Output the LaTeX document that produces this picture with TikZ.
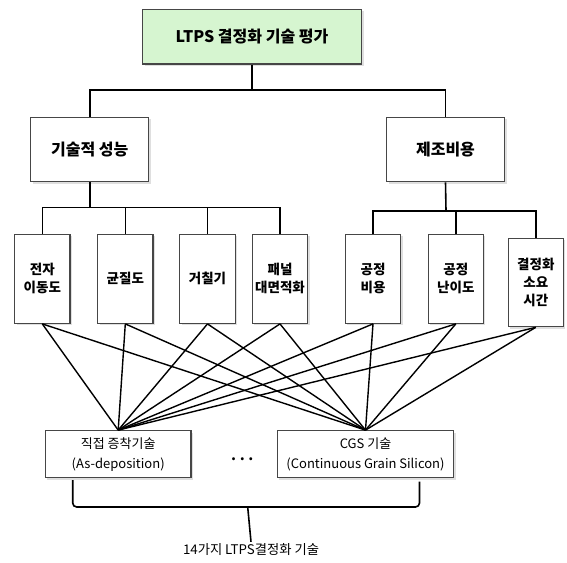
\documentclass[tikz,border=0pt]{standalone}
\usepackage{fontspec}
\setmainfont{Noto Sans CJK KR}
\usetikzlibrary{shadows}
\definecolor{topgreen}{RGB}{214,245,208}
\definecolor{boxline}{RGB}{70,70,70}
\tikzset{
  basebox/.style={draw=boxline, line width=1.2pt, fill=white, inner sep=0pt, align=center,
    drop shadow={shadow xshift=2pt, shadow yshift=-2pt, opacity=0.25, fill=black!50}},
  topbox/.style={basebox, fill=topgreen, minimum width=219pt, minimum height=54.7pt,
    font=\fontsize{16}{19}\selectfont\bfseries},
  midbox/.style={basebox, minimum width=118pt, minimum height=64.4pt,
    font=\fontsize{16}{19}\selectfont\bfseries},
  leafbox/.style={basebox, minimum width=55.3pt, minimum height=89pt,
    font=\fontsize{13.5}{18}\selectfont\bfseries},
  techbox/.style={basebox, minimum height=47pt, font=\fontsize{13}{20}\selectfont},
  conn/.style={line width=1.6pt, black},
  lbl/.style={inner sep=2pt, font=\fontsize{13.3}{16}\selectfont}
}
\begin{document}
\begin{tikzpicture}[x=1pt, y=-1pt]
\useasboundingbox (0,0) rectangle (567,562);

% nodes
\node[topbox] (top) at (252,36.7) {LTPS 결정화 기술 평가};
\node[midbox] (perf) at (89.7,149.5) {기술적 성능};
\node[midbox] (cost) at (445.5,149.5) {제조비용};

\node[leafbox] (t1) at (42.3,278.8) {전자\\이동도};
\node[leafbox] (t2) at (125.3,278.8) {균질도};
\node[leafbox] (t3) at (207.5,278.8) {거칠기};
\node[leafbox] (t4) at (280,278.8) {패널\\대면적화};
\node[leafbox] (t5) at (373,278.8) {공정\\비용};
\node[leafbox] (t6) at (455.8,278.8) {공정\\난이도};
\node[leafbox, minimum height=88.4pt] (t7) at (535.8,282.5) {결정화\\소요\\시간};

\node[techbox, minimum width=145.5pt] (ta) at (118.2,454.2) {직접 증착기술\\(As-deposition)};
\node[techbox, minimum width=176.5pt] (tb) at (365.5,454.2) {CGS 기술\\(Continuous Grain Silicon)};
\node[font=\fontsize{14}{14}\selectfont\bfseries] (dots) at (242.3,461) {···};
\node[lbl] (sum) at (251,550) {14가지 LTPS결정화 기술};

% tree connectors
\coordinate (bus1) at (252,90);
\draw[conn] (top.south) -- (bus1);
\draw[conn] (perf.north) |- (bus1) -| (cost.north);

\coordinate (bus2) at (89.7,207.3);
\draw[conn] (perf.south) -- (bus2);
\draw[conn] (t1.north) |- (t4.north |- bus2) -- (t4.north);
\draw[conn] (t2.north) -- (t2.north |- bus2);
\draw[conn] (t3.north) -- (t3.north |- bus2);

\coordinate (bus3) at (446,210.7);
\draw[conn] (cost.south) -- (bus3);
\draw[conn] (t5.north) |- (t7.north |- bus3) -- (t7.north);
\draw[conn] (t6.north) -- (t6.north |- bus3);

% fan connectors
\foreach \n in {t1,t2,t3,t4,t5,t6,t7} {
  \draw[conn, line width=1.4pt] (\n.south) -- (ta.north);
  \draw[conn, line width=1.4pt] (\n.south) -- (tb.north);
}

% brace
\coordinate (bl) at (72.7,480);
\coordinate (br) at (419.5,481.7);
\coordinate (bm) at (247.7,507);
\draw[conn, rounded corners=4pt] (bl) |- (bm) -| (br);
\draw[conn] (bm) -- (sum.north);
\end{tikzpicture}
\end{document}
